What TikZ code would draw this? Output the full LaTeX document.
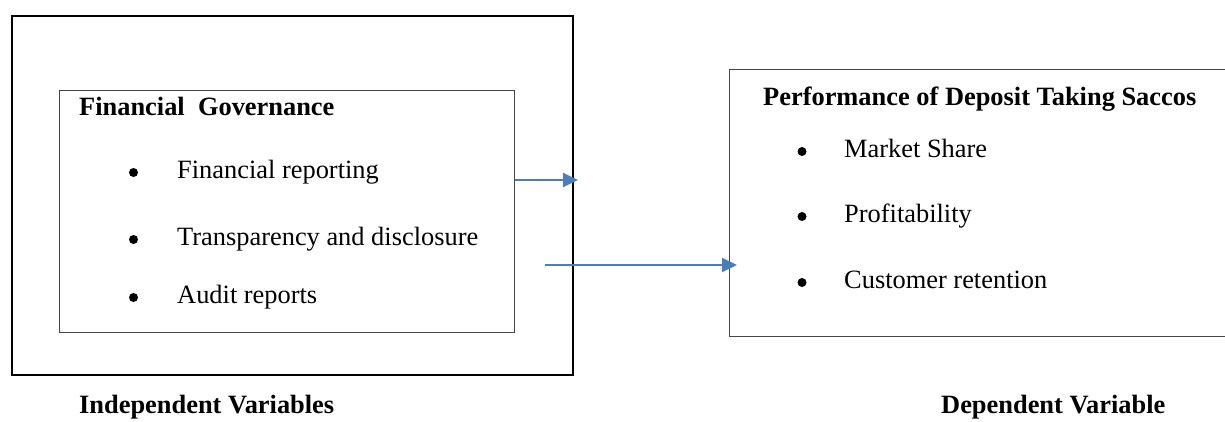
\documentclass[tikz,border=0pt]{standalone}
\usepackage{fontspec}
\setmainfont{Liberation Serif}
\usetikzlibrary{arrows.meta}
\definecolor{arrowblue}{RGB}{74,126,187}
\definecolor{boxgray}{RGB}{70,70,70}
\tikzset{
  outerbox/.style={draw=black, line width=2.2pt, inner sep=0pt, anchor=north west},
  innerbox/.style={draw=boxgray, line width=1.3pt, inner sep=0pt, anchor=north west},
  txt/.style={anchor=base west, inner sep=0pt, font=\fontsize{26.4}{30}\selectfont},
  bold/.style={txt, font=\fontsize{26.4}{30}\selectfont\bfseries},
  bul/.style={circle, fill=black, inner sep=0pt, minimum size=9pt},
  flow/.style={draw=arrowblue, line width=2pt, -{Triangle[length=15pt,width=14pt]}}
}
\begin{document}
\begin{tikzpicture}[x=1pt,y=-1pt]
\useasboundingbox (0,0) rectangle (1225,421);
% boxes
\node[outerbox, minimum width=561pt, minimum height=359pt] (outer) at (11,15) {};
\node[innerbox, minimum width=455pt, minimum height=242pt] (inner) at (59,90) {};
\node[innerbox, minimum width=500pt, minimum height=267pt] (dep) at (729,69) {};
% left texts
\node[bold] (fg) at (79,115) {Financial\ \ Governance};
\node[bul] (b1) at (133.5,172.5) {};
\node[txt] (t1) at (177,178) {Financial reporting};
\node[bul] (b2) at (133.5,239.5) {};
\node[txt] (t2) at (177,245) {Transparency and disclosure};
\node[bul] (b3) at (133.5,297.5) {};
\node[txt] (t3) at (177,303) {Audit reports};
% right texts
\node[bold] (pd) at (763,105) {Performance of Deposit Taking Saccos};
\node[bul] (c1) at (802,151.5) {};
\node[txt] (u1) at (844,157) {Market Share};
\node[bul] (c2) at (802,216.5) {};
\node[txt] (u2) at (844,222) {Profitability};
\node[bul] (c3) at (802,282.5) {};
\node[txt] (u3) at (844,288) {Customer retention};
% bottom labels
\node[bold] (iv) at (79,413) {Independent Variables};
\node[bold] (dv) at (941,413) {Dependent Variable};
% arrows
\coordinate (a1e) at (578,180);
\coordinate (a2s) at (545,265);
\coordinate (a2e) at (737,265);
\draw[flow] (inner.east |- a1e) -- (a1e);
\draw[flow] (a2s) -- (a2e);
\end{tikzpicture}
\end{document}
